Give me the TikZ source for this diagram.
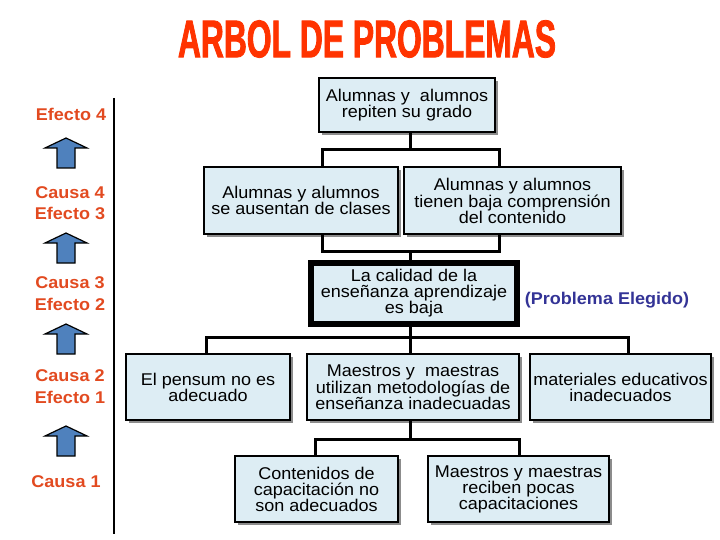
\documentclass[tikz,border=0pt]{standalone}
\usepackage{fontspec}
\setmainfont{Liberation Sans}[FakeStretch=1.06]
\newfontfamily\titlefont{Liberation Sans}[FakeStretch=0.6,FakeBold=1.5]
\usetikzlibrary{shadows}
\definecolor{boxfill}{RGB}{221,237,244}
\definecolor{labred}{RGB}{226,74,32}
\definecolor{titlered}{RGB}{255,51,0}
\definecolor{probblue}{RGB}{51,51,150}
\definecolor{arrowblue}{RGB}{79,129,189}
\tikzset{
  box/.style={draw=black, line width=1.5pt, fill=boxfill, align=center, inner sep=0pt,
    font=\fontsize{17}{16}\selectfont,
    drop shadow={shadow xshift=3pt, shadow yshift=-3pt, fill=black!45, opacity=1}},
  conn/.style={line width=3pt},
  lab/.style={text=labred, font=\fontsize{17}{21.5}\selectfont\bfseries, align=center, inner sep=0pt},
  uparrow/.pic={\draw[fill=arrowblue, line width=1.2pt, line join=miter]
     (0,0) -- (21,10) -- (9,10) -- (9,30) -- (-9,30) -- (-9,10) -- (-21,10) -- cycle;}
}
\begin{document}
\begin{tikzpicture}[x=1pt,y=-1pt]
\useasboundingbox (0,0) rectangle (720,540);
% title
\node[text=titlered, inner sep=0pt, font=\titlefont\fontsize{53}{53}\selectfont\bfseries] (title) at (367,39) {ARBOL DE PROBLEMAS};
% left scale
\coordinate (vtop) at (114,98);
\coordinate (vbot) at (114,534);
\draw[line width=1.5pt] (vtop) -- (vbot);
\node[lab] (e4) at (71,114) {Efecto 4};
\node[lab] (c4) at (70,203) {Causa 4\\Efecto 3};
\node[lab] (c3) at (70,293.5) {Causa 3\\Efecto 2};
\node[lab] (c2) at (70,386.5) {Causa 2\\Efecto 1};
\node[lab] (c1) at (66,482) {Causa 1};
\pic at (66,138) {uparrow};
\pic at (66,233) {uparrow};
\pic at (66,324) {uparrow};
\pic at (66,426) {uparrow};
% boxes
\node[box, minimum width=176pt, minimum height=54pt] (top) at (407,105) {Alumnas y~ alumnos\\repiten su grado};
\node[box, minimum width=194pt, minimum height=67pt] (aus) at (301,200.5) {Alumnas y alumnos\\se ausentan de clases};
\node[box, minimum width=217pt, minimum height=67pt] (tie) at (512.5,200.5) {Alumnas y alumnos\\tienen baja comprensión\\del contenido};
\node[box, line width=6pt, minimum width=206pt, minimum height=61pt] (prob) at (414,293.5) {La calidad de la\\enseñanza aprendizaje\\es baja};
\node[text=probblue, inner sep=0pt, font=\fontsize{17}{17}\selectfont\bfseries] (elegido) at (607,300) {(Problema Elegido)};
\node[box, minimum width=164pt, minimum height=66pt] (pen) at (208,387) {El pensum no es\\adecuado};
\node[box, minimum width=212pt, minimum height=66pt] (uti) at (413,387) {Maestros y~ maestras\\utilizan metodologías de\\enseñanza inadecuadas};
\node[box, minimum width=181pt, minimum height=66pt] (mat) at (620.5,387) {materiales educativos\\inadecuados};
\node[box, minimum width=163pt, minimum height=66pt] (con) at (316.5,489) {Contenidos de\\capacitación no\\son adecuados};
\node[box, minimum width=181pt, minimum height=66pt] (rec) at (518.5,489) {Maestros y maestras\\reciben pocas\\capacitaciones};
% junctions
\coordinate (b1L) at (322,150); \coordinate (b1M) at (410,150); \coordinate (b1R) at (499,150);
\coordinate (b2L) at (322,251); \coordinate (b2M) at (410,251); \coordinate (b2R) at (499,251);
\coordinate (b3L) at (206,337); \coordinate (b3M) at (410,337); \coordinate (b3R) at (628,337);
\coordinate (b4L) at (315,439); \coordinate (b4M) at (410,439); \coordinate (b4R) at (519,439);
% connectors
\draw[conn] (b1M |- top.south) -- (b1M);
\draw[conn] (b1L |- aus.north) |- (b1R) -- (b1R |- tie.north);
\draw[conn] (b2L |- aus.south) |- (b2R) -- (b2R |- tie.south);
\draw[conn] (b2M) -- (b2M |- prob.north);
\draw[conn] (b3M |- prob.south) -- (b3M |- uti.north);
\draw[conn] (b3L |- pen.north) |- (b3R) -- (b3R |- mat.north);
\draw[conn] (b4M |- uti.south) -- (b4M);
\draw[conn] (b4L |- con.north) |- (b4R) -- (b4R |- rec.north);
\end{tikzpicture}
\end{document}
